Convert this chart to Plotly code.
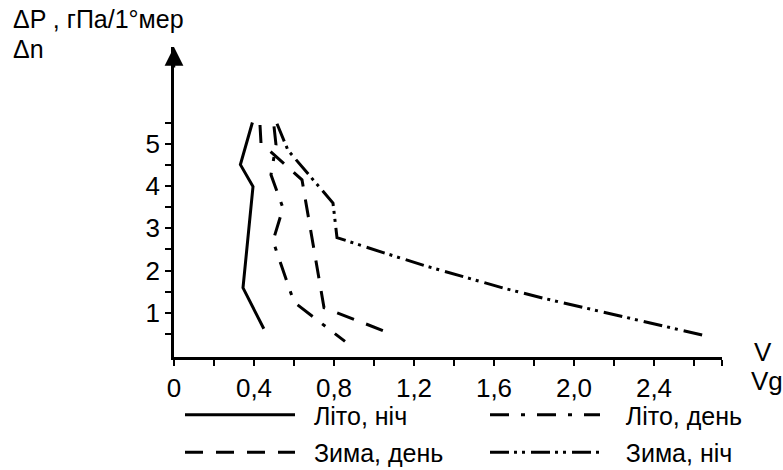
import plotly.graph_objects as go

# ---- data ----
summer_night_v = [0.392, 0.332, 0.395, 0.345, 0.449]
summer_night_p = [5.51, 4.51, 3.99, 1.59, 0.62]

summer_day_v = [0.50, 0.51, 0.485, 0.545, 0.495, 0.60, 0.855]
summer_day_p = [5.42, 4.98, 4.27, 3.48, 2.70, 1.25, 0.32]

winter_day_v = [0.43, 0.435, 0.64, 0.75, 1.07]
winter_day_p = [5.45, 5.02, 4.15, 1.12, 0.53]

winter_night_v = [0.515, 0.57, 0.795, 0.815, 1.05, 1.25, 1.45, 1.65, 1.85, 2.05, 2.25, 2.45, 2.66]
winter_night_p = [5.48, 4.85, 3.60, 2.78, 2.42, 2.12, 1.85, 1.58, 1.34, 1.12, 0.90, 0.68, 0.45]

x_tickvals = [0, 0.2, 0.4, 0.6, 0.8, 1.0, 1.2, 1.4, 1.6, 1.8, 2.0, 2.2, 2.4, 2.6, 2.74]
x_ticktext = ["0", "", "0,4", "", "0,8", "", "1,2", "", "1,6", "", "2,0", "", "2,4", "", ""]
y_tickvals = [0.5, 1, 1.5, 2, 2.5, 3, 3.5, 4, 4.5, 5, 5.5]
y_ticktext = ["", "1", "", "2", "", "3", "", "4", "", "5", ""]

names = ["Літо, ніч", "Літо, день", "Зима, день", "Зима, ніч"]

FONT = "Liberation Sans, Arial, sans-serif"
FS = 26
LFS = 25
NB = "\u00a0"

fig = go.Figure()
fig.add_trace(go.Scatter(x=summer_night_v, y=summer_night_p, mode="lines", name=NB * 2 + names[0],
                         line=dict(color="black", width=3), legend="legend"))
fig.add_trace(go.Scatter(x=summer_day_v, y=summer_day_p, mode="lines", name=NB * 3 + names[1],
                         line=dict(color="black", width=3, dash="19px,12px,4px,12px"), legend="legend2"))
fig.add_trace(go.Scatter(x=winter_day_v, y=winter_day_p, mode="lines", name=NB * 2 + names[2],
                         line=dict(color="black", width=3, dash="18px,13px"), legend="legend3"))
fig.add_trace(go.Scatter(x=winter_night_v, y=winter_night_p, mode="lines", name=NB * 3 + names[3],
                         line=dict(color="black", width=3, dash="19px,5px,3px,5px,3px,6px"), legend="legend4"))

axis_common = dict(showgrid=False, zeroline=False, ticks="outside", ticklen=6, tickwidth=2,
                   tickcolor="black", linecolor="black", linewidth=2.5, showline=True,
                   tickfont=dict(family=FONT, size=FS, color="black"))


def leg(x, y):
    return dict(orientation="h", x=x, y=y, xanchor="left", yanchor="middle", itemwidth=110,
                font=dict(family=FONT, size=LFS, color="black"), bgcolor="rgba(0,0,0,0)")


# plot area: 174..722 px horizontally, 47..357 px vertically
fig.update_layout(
    width=783, height=470,
    margin=dict(l=174, r=61, t=47, b=113, autoexpand=False),
    plot_bgcolor="white", paper_bgcolor="white",
    font=dict(family=FONT, size=FS, color="black"),
    xaxis=dict(range=[0, 2.74], tickvals=x_tickvals, ticktext=x_ticktext, **axis_common),
    yaxis=dict(range=[-0.05, 7.3], tickvals=y_tickvals, ticktext=y_ticktext, **axis_common),
    xaxis2=dict(overlaying="x", matches="x", anchor="y", side="bottom", showgrid=False, zeroline=False,
                ticks="inside", ticklen=6, tickwidth=2, tickcolor="black", showline=False,
                showticklabels=False, tickvals=x_tickvals),
    yaxis2=dict(overlaying="y", matches="y", anchor="x", side="left", showgrid=False, zeroline=False,
                ticks="inside", ticklen=6, tickwidth=2, tickcolor="black", showline=False,
                showticklabels=False, tickvals=y_tickvals),
    legend=leg((180 - 174) / 548, (357 - 415) / 310),
    legend2=leg((485 - 174) / 548, (357 - 415) / 310),
    legend3=leg((180 - 174) / 548, (357 - 452.5) / 310),
    legend4=leg((485 - 174) / 548, (357 - 452.5) / 310),
    showlegend=True,
)

# y-axis arrow
fig.add_annotation(x=0, y=7.3, xref="x", yref="y", ax=0, ay=22, axref="pixel", ayref="pixel",
                   text="", showarrow=True, arrowhead=2, arrowsize=1.5, arrowwidth=2.5,
                   arrowcolor="black", standoff=0)
# axis titles
fig.add_annotation(x=(12 - 174) / 548, y=(357 - 19) / 310, xref="paper", yref="paper",
                   xanchor="left", yanchor="middle", text="ΔP , гПа/1°мер", showarrow=False,
                   borderpad=0, font=dict(family=FONT, size=25, color="black"))
fig.add_annotation(x=(12 - 174) / 548, y=(357 - 49) / 310, xref="paper", yref="paper",
                   xanchor="left", yanchor="middle", text="Δn", showarrow=False,
                   borderpad=0, font=dict(family=FONT, size=25, color="black"))
fig.add_annotation(x=(763 - 174) / 548, y=(357 - 352) / 310, xref="paper", yref="paper",
                   xanchor="center", yanchor="middle", text="V", showarrow=False,
                   font=dict(family=FONT, size=FS, color="black"))
fig.add_annotation(x=(767 - 174) / 548, y=(357 - 381) / 310, xref="paper", yref="paper",
                   xanchor="center", yanchor="middle", text="Vg", showarrow=False,
                   font=dict(family=FONT, size=FS, color="black"))

fig.write_html("out.html")
